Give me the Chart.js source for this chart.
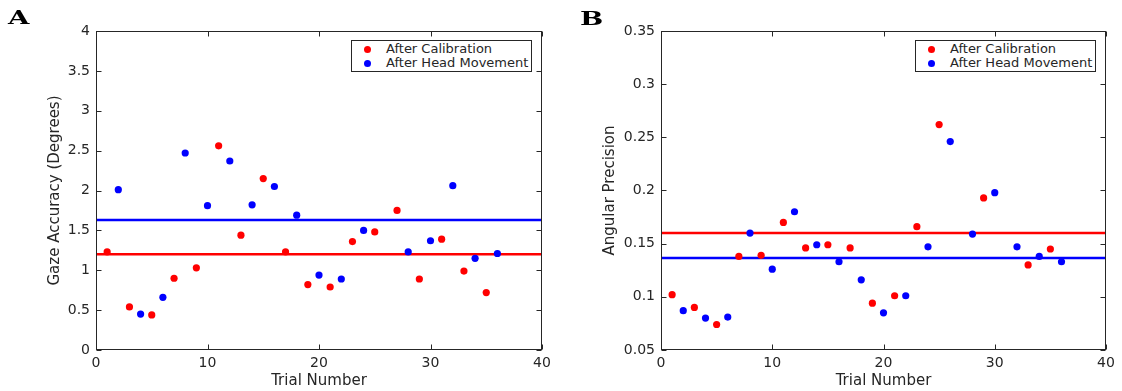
<!DOCTYPE html>
<html><head><meta charset="utf-8">
<script src="https://cdn.jsdelivr.net/npm/chart.js@4/dist/chart.umd.min.js"></script>
<style>
body{margin:0;background:#fff;width:1122px;height:391px;overflow:hidden;position:relative;font-family:"DejaVu Sans";}
.panel{position:absolute;top:0;width:561px;height:391px;}
.letter{position:absolute;font-family:"DejaVu Serif";font-weight:bold;font-size:19px;line-height:19px;transform:scaleX(1.45);transform-origin:left top;color:#000;}
.legend{position:absolute;box-sizing:border-box;width:181px;height:32px;border:1px solid #262626;background:#fff;padding:1px 0 2px 0;font-size:13px;color:#262626;font-family:"DejaVu Sans";}
.legend .row{display:flex;align-items:center;height:14px;line-height:14px;white-space:nowrap;}
.legend .dot{flex:none;width:7px;height:7px;border-radius:50%;margin-left:12.5px;margin-right:15px;}
</style></head><body>
<div class="panel" id="pA" style="left:0"><canvas id="cA" width="561" height="391"></canvas></div>
<div class="panel" id="pB" style="left:561px"><canvas id="cB" width="561" height="391"></canvas></div>
<div class="letter" style="left:8px;top:8px">A</div>
<div class="letter" style="left:580px;top:9px">B</div>
<script>
// ---- data ----
const xTicks = [0, 10, 20, 30, 40];
const yTicksA = [0, 0.5, 1, 1.5, 2, 2.5, 3, 3.5, 4];
const yTicksB = [0.05, 0.1, 0.15, 0.2, 0.25, 0.3, 0.35];
const seriesNames = ['After Calibration', 'After Head Movement'];
const trialsCal = [1, 3, 5, 7, 9, 11, 13, 15, 17, 19, 21, 23, 25, 27, 29, 31, 33, 35];
const trialsHead = [2, 4, 6, 8, 10, 12, 14, 16, 18, 20, 22, 24, 26, 28, 30, 32, 34, 36];
const gazeCal = [1.23, 0.54, 0.44, 0.90, 1.03, 2.56, 1.44, 2.15, 1.23, 0.82, 0.79, 1.36, 1.48, 1.75, 0.89, 1.39, 0.99, 0.72];
const gazeHead = [2.01, 0.45, 0.66, 2.47, 1.81, 2.37, 1.82, 2.05, 1.69, 0.94, 0.89, 1.50, null, 1.23, 1.37, 2.06, 1.15, 1.21];
const precCal = [0.102, 0.090, 0.074, 0.138, 0.139, 0.170, 0.146, 0.149, 0.146, 0.094, 0.101, 0.166, 0.262, null, 0.193, null, 0.130, 0.145];
const precHead = [0.087, 0.080, 0.081, 0.160, 0.126, 0.180, 0.149, 0.133, 0.116, 0.085, 0.101, 0.147, 0.246, 0.159, 0.198, 0.147, 0.138, 0.133];
const gazeMeans = [1.20, 1.63];   // calibration, head movement
const precMeans = [0.160, 0.1365];
const colors = ['#ff0000', '#0000ff'];

Chart.defaults.font.family = 'DejaVu Sans';
Chart.defaults.color = '#262626';

function pts(xs, ys) { const o = []; xs.forEach((x, i) => { if (ys[i] !== null) o.push({x: x, y: ys[i]}); }); return o; }
function fmt(v) { return String(Number(v.toFixed(3))); }

const framePlugin = {
  id: 'frame',
  afterDraw(chart) {
    const {ctx, chartArea: a, scales} = chart;
    const L = 5;
    ctx.save();
    ctx.strokeStyle = '#262626';
    ctx.lineWidth = 1;
    const l = Math.round(a.left) + 0.5, r = Math.round(a.right) - 0.5, t = Math.round(a.top) + 0.5, b = Math.round(a.bottom) - 0.5;
    ctx.strokeRect(l, t, r - l, b - t);
    ctx.beginPath();
    scales.x.ticks.forEach(tk => {
      const px = Math.round(scales.x.getPixelForValue(tk.value)) + 0.5;
      ctx.moveTo(px, b); ctx.lineTo(px, b - L);
      ctx.moveTo(px, t); ctx.lineTo(px, t + L);
    });
    scales.y.ticks.forEach(tk => {
      const py = Math.round(scales.y.getPixelForValue(tk.value)) + 0.5;
      ctx.moveTo(l, py); ctx.lineTo(l + L, py);
      ctx.moveTo(r, py); ctx.lineTo(r - L, py);
    });
    ctx.stroke();
    ctx.restore();
  }
};

function makeChart(canvasId, panelId, cal, head, means, yTicks, yTitle, yWidth, yTitlePad, padRight) {
  const datasets = [
    {label: seriesNames[0], data: pts(trialsCal, cal), backgroundColor: colors[0], borderColor: colors[0], pointRadius: 3.6, pointBorderWidth: 0, order: 1},
    {label: seriesNames[1], data: pts(trialsHead, head), backgroundColor: colors[1], borderColor: colors[1], pointRadius: 3.6, pointBorderWidth: 0, order: 1},
    {label: 'mean0', data: [{x: xTicks[0], y: means[0]}, {x: xTicks[xTicks.length - 1], y: means[0]}], showLine: true, borderColor: colors[0], borderWidth: 2.6, pointRadius: 0, order: 2, isMean: true},
    {label: 'mean1', data: [{x: xTicks[0], y: means[1]}, {x: xTicks[xTicks.length - 1], y: means[1]}], showLine: true, borderColor: colors[1], borderWidth: 2.6, pointRadius: 0, order: 2, isMean: true}
  ];
  const chart = new Chart(document.getElementById(canvasId), {
    type: 'scatter',
    data: {datasets: datasets},
    plugins: [framePlugin],
    options: {
      responsive: false, animation: false, devicePixelRatio: 1,
      layout: {padding: {top: 31, right: padRight, bottom: 0, left: 0}},
      plugins: {legend: {display: false}, tooltip: {enabled: false}},
      scales: {
        x: {
          type: 'linear', min: xTicks[0], max: xTicks[xTicks.length - 1],
          afterBuildTicks: s => { s.ticks = xTicks.map(v => ({value: v})); },
          afterFit: s => { s.height = 41; },
          grid: {display: false, drawTicks: false}, border: {display: false},
          ticks: {padding: 5, font: {size: 14}, color: '#262626', callback: v => fmt(v), maxRotation: 0},
          title: {display: true, text: 'Trial Number', font: {size: 15}, color: '#262626', padding: {top: 0, bottom: 1}}
        },
        y: {
          type: 'linear', min: yTicks[0], max: yTicks[yTicks.length - 1],
          afterBuildTicks: s => { s.ticks = yTicks.map(v => ({value: v})); },
          afterFit: s => { s.width = yWidth; },
          grid: {display: false, drawTicks: false}, border: {display: false},
          ticks: {padding: 6, font: {size: 14}, color: '#262626', callback: v => fmt(v)},
          title: {display: true, text: yTitle, font: {size: 15}, color: '#262626', padding: {top: yTitlePad, bottom: 0}}
        }
      }
    }
  });
  // legend box inside the axes (top right), built from the chart's own datasets
  const a = chart.chartArea;
  const box = document.createElement('div');
  box.className = 'legend';
  box.style.left = (a.right - 10.5 - 181) + 'px';
  box.style.top = (a.top + 9.3) + 'px';
  chart.data.datasets.filter(d => !d.isMean).forEach(d => {
    const row = document.createElement('div'); row.className = 'row';
    const dot = document.createElement('span'); dot.className = 'dot'; dot.style.background = d.backgroundColor;
    const txt = document.createElement('span'); txt.textContent = d.label;
    row.appendChild(dot); row.appendChild(txt); box.appendChild(row);
  });
  document.getElementById(panelId).appendChild(box);
  return chart;
}

makeChart('cA', 'pA', gazeCal, gazeHead, gazeMeans, yTicksA, 'Gaze Accuracy (Degrees)', 96, 46, 19);
makeChart('cB', 'pB', precCal, precHead, precMeans, yTicksB, 'Angular Precision', 100, 40, 16);
</script>
</body></html>
